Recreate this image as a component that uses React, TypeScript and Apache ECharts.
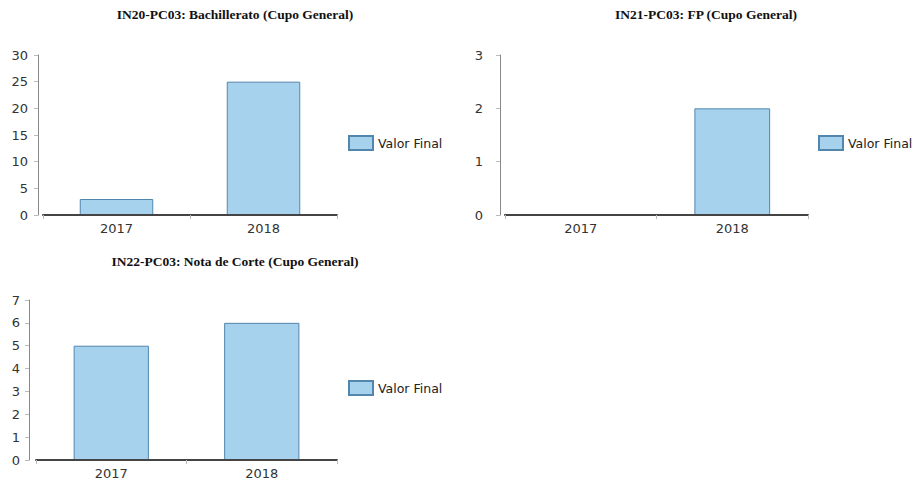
import React, { useEffect, useRef } from "react";
import * as echarts from "echarts";

const years = ["2017", "2018"];
const seriesName = "Valor Final";
const titles = [
  "IN20-PC03: Bachillerato (Cupo General)",
  "IN21-PC03: FP (Cupo General)",
  "IN22-PC03: Nota de Corte (Cupo General)",
];
const bachilleratoValues = [3, 25];
const fpValues = [0, 2];
const notaCorteValues = [5, 6];
const yMaxes = [30, 3, 7];
const yIntervals = [5, 1, 1];

const FILL = "#a6d2ee";
const BORDER = "#5286ad";
const SANS = "DejaVu Sans";

export default function App() {
  const ref = useRef<HTMLDivElement>(null);
  useEffect(() => {
    if (!ref.current) return;
    const chart = echarts.init(ref.current, undefined, { renderer: "svg" });
    const grids = [
      { left: 43, top: 55, width: 294, height: 160 },
      { left: 505, top: 55, width: 303, height: 160 },
      { left: 36, top: 300, width: 301, height: 160 },
    ];
    const yOffsets = [5, 5, 7];
    const yMargins = [10, 17, 9];
    const titlePos = [
      { x: 235, y: 7 },
      { x: 706, y: 7 },
      { x: 235, y: 254 },
    ];
    const legendPos = [
      { x: 348, y: 135 },
      { x: 818, y: 135 },
      { x: 348, y: 380 },
    ];
    const allValues = [bachilleratoValues, fpValues, notaCorteValues];

    chart.setOption({
      animation: false,
      backgroundColor: "#ffffff",
      title: titles.map((t, i) => ({
        text: t,
        left: titlePos[i].x,
        top: titlePos[i].y,
        textAlign: "center",
        padding: 0,
        textStyle: {
          fontFamily: "Liberation Serif",
          fontWeight: "bold",
          fontSize: 13.5,
          color: "#111",
        },
      })),
      legend: legendPos.map((p) => ({
        left: p.x,
        top: p.y,
        padding: 0,
        orient: "vertical",
        icon: "rect",
        itemWidth: 24,
        itemHeight: 14,
        data: [seriesName],
        selectedMode: false,
        textStyle: { fontFamily: SANS, fontSize: 12.5, color: "#222" },
      })),
      grid: grids,
      xAxis: grids.map((_, i) => ({
        type: "category",
        gridIndex: i,
        data: years,
        boundaryGap: true,
        z: 5,
        axisLine: { show: true, lineStyle: { color: "#444", width: 2 } },
        axisTick: { show: true, length: 4, lineStyle: { color: "#bbb" } },
        axisLabel: { fontFamily: SANS, fontSize: 13, color: "#333", margin: 7 },
        splitLine: { show: false },
      })),
      yAxis: grids.map((_, i) => ({
        type: "value",
        gridIndex: i,
        min: 0,
        max: yMaxes[i],
        interval: yIntervals[i],
        offset: yOffsets[i],
        axisLine: { show: true, lineStyle: { color: "#888", width: 1 } },
        axisTick: { show: true, length: 4, lineStyle: { color: "#bbb" } },
        axisLabel: { fontFamily: SANS, fontSize: 13, color: "#333", margin: yMargins[i] },
        splitLine: { show: false },
      })),
      series: allValues.map((vals, i) => ({
        type: "bar",
        name: seriesName,
        xAxisIndex: i,
        yAxisIndex: i,
        data: vals,
        barWidth: "50%",
        itemStyle: { color: FILL, borderColor: BORDER, borderWidth: 1 },
      })),
    });
    return () => chart.dispose();
  }, []);
  return (
    <div
      ref={ref}
      style={{ position: "absolute", left: 0, top: 0, width: 914, height: 486 }}
    />
  );
}
